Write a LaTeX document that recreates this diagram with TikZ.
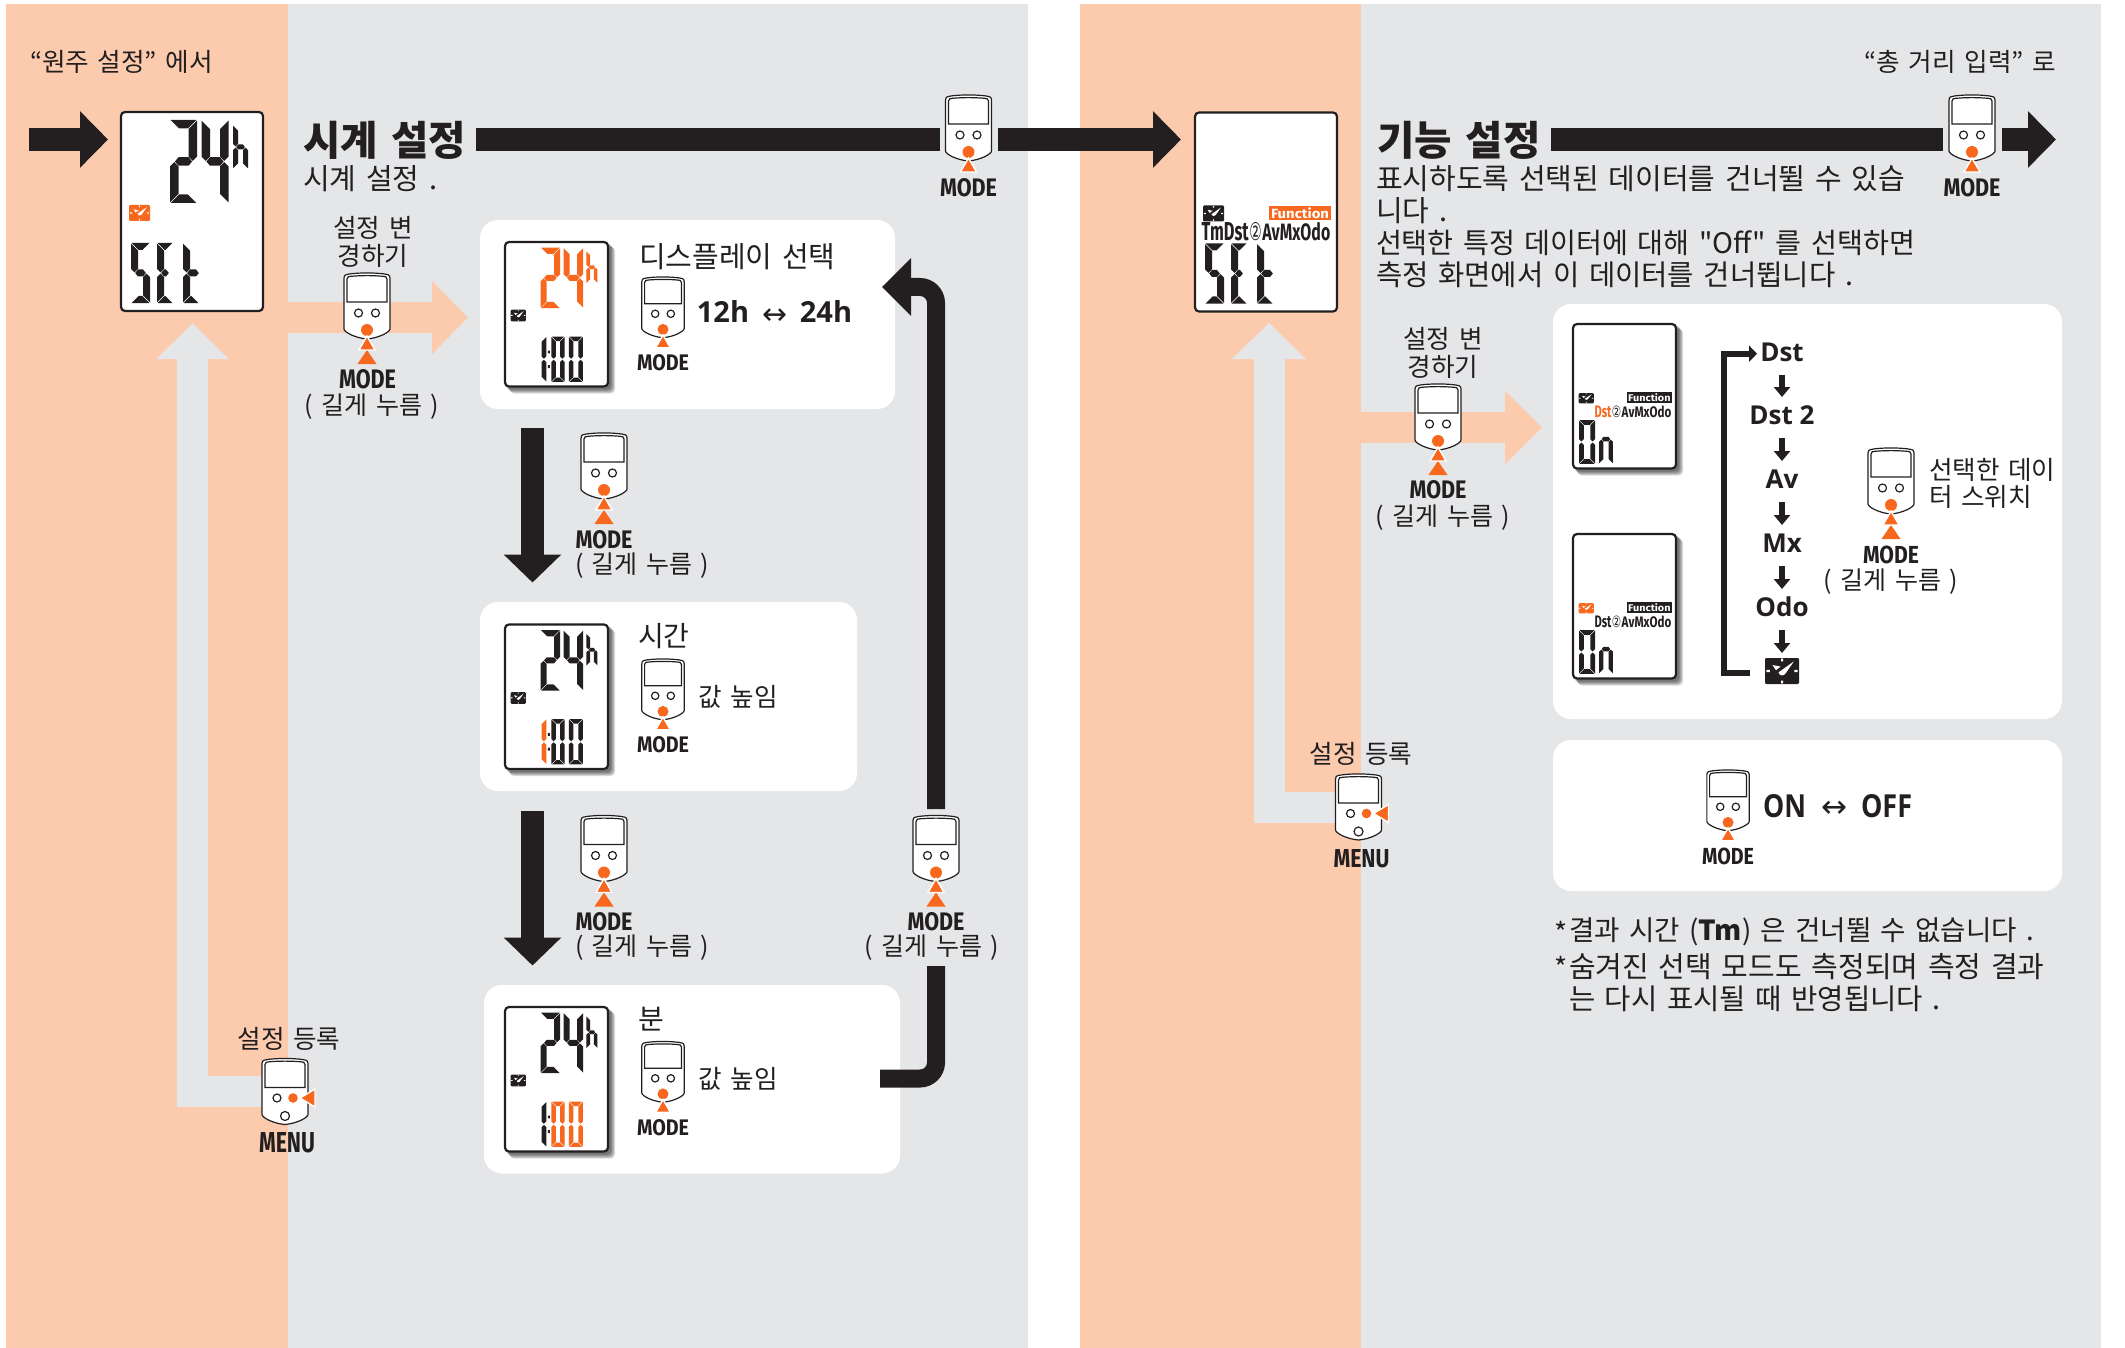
\documentclass[tikz,border=0pt]{standalone}
\usepackage{fontspec}
\usepackage{graphicx}
\usetikzlibrary{arrows.meta,backgrounds}
\newfontfamily\kr[WordSpace=1.5]{Noto Sans CJK KR}
\newfontfamily\opsans{Open Sans}
\newfontfamily\fira{Fira Sans}
\newfontfamily\dej{DejaVu Sans}
\definecolor{peach}{HTML}{FCCBAE}
\definecolor{panelgray}{HTML}{E5E6E8}
\definecolor{ink}{HTML}{231F20}
\definecolor{hot}{HTML}{F7681E}
\tikzset{
  tx/.style={inner sep=0pt,outer sep=0pt,text=ink},
  t125/.style={tx,font=\kr\fontsize{12.5}{15}\selectfont},
  t13/.style={tx,font=\kr\fontsize{12.8}{15}\selectfont},
  t138/.style={tx,font=\kr\fontsize{13.8}{16}\selectfont},
  t14/.style={tx,font=\kr\fontsize{14}{16}\selectfont},
  t141/.style={tx,font=\kr\fontsize{14.1}{16}\selectfont},
  t143/.style={tx,font=\kr\fontsize{14.3}{16}\selectfont},
  t145/.style={tx,font=\kr\fontsize{14.5}{16}\selectfont},
  ttitle/.style={tx,font=\kr\bfseries\fontsize{20.3}{24}\selectfont},
  tbold/.style={tx,font=\opsans\bfseries\fontsize{13}{15}\selectfont},
  tboldb/.style={tx,font=\opsans\bfseries\fontsize{14.5}{16}\selectfont},
  whitepanel/.style={fill=white,rounded corners=9pt,inner sep=0pt,outer sep=0pt},
  lcdbox/.style={draw=ink,fill=white,line width=1.1pt,rounded corners=2pt,inner sep=0pt,outer sep=0pt},
  ghost/.style={inner sep=0pt,outer sep=0pt},
  devline/.style={draw=ink,line width=.6pt},
  blackarrow/.style={draw=ink,line width=11.5pt},
  softarrow/.style={line width=15.5pt},
  smallarrow/.style={draw=ink,line width=3.2pt,-{Triangle[length=5pt,width=8pt]}},
}
% seven segments: local units
\newcommand{\sA}{\fill[\dC] (0.7,0)--(\dW-0.7,0)--(\dW-\dT-0.7,\dT)--(\dT+0.7,\dT)--cycle;}
\newcommand{\sD}{\fill[\dC] (0.7,\dH)--(\dW-0.7,\dH)--(\dW-\dT-0.7,\dH-\dT)--(\dT+0.7,\dH-\dT)--cycle;}
\newcommand{\sF}{\fill[\dC] (0,0.7)--(\dT,\dT+0.7)--(\dT,\dH/2-\dT/2-0.7)--(\dT/2,\dH/2-0.7)--(0,\dH/2-\dT/2-0.7)--cycle;}
\newcommand{\sE}{\fill[\dC] (0,\dH-0.7)--(\dT,\dH-\dT-0.7)--(\dT,\dH/2+\dT/2+0.7)--(\dT/2,\dH/2+0.7)--(0,\dH/2+\dT/2+0.7)--cycle;}
\newcommand{\sB}{\fill[\dC] (\dW,0.7)--(\dW-\dT,\dT+0.7)--(\dW-\dT,\dH/2-\dT/2-0.7)--(\dW-\dT/2,\dH/2-0.7)--(\dW,\dH/2-\dT/2-0.7)--cycle;}
\newcommand{\sC}{\fill[\dC] (\dW,\dH-0.7)--(\dW-\dT,\dH-\dT-0.7)--(\dW-\dT,\dH/2+\dT/2+0.7)--(\dW-\dT/2,\dH/2+0.7)--(\dW,\dH/2+\dT/2+0.7)--cycle;}
\newcommand{\sG}{\fill[\dC] (\dT/2+0.7,\dH/2)--(\dT,\dH/2-\dT/2)--(\dW-\dT,\dH/2-\dT/2)--(\dW-\dT/2-0.7,\dH/2)--(\dW-\dT,\dH/2+\dT/2)--(\dT,\dH/2+\dT/2)--cycle;}
\newcommand{\digit}[7]{\begin{scope}[shift={(#1,#2)}]\def\dW{#3}\def\dH{#4}\def\dT{#5}\def\dC{#6}#7\end{scope}}
% LCD contents in the frame of the large LCD (144 x 201)
\newcommand{\twofour}[1]{%
  \digit{50}{9}{27}{83}{8.5}{#1}{\sA\sB\sG\sE\sD}%
  \digit{81.5}{9}{27}{83}{8.5}{#1}{\sF\sB\sG\sC}%
  \digit{113}{14}{15}{44}{5}{#1}{\sF\sE\sG\sC}}
\newcommand{\setword}{%
  \digit{11}{132}{19}{60}{7}{ink}{\sA\sF\sG\sC\sD}%
  \digit{37}{132}{16}{60}{7}{ink}{\sA\sF\sG\sE\sD}%
  \digit{63}{132}{16}{60}{7}{ink}{\sF\sE\sD}%
  \digit{63}{132}{20}{60}{7}{ink}{\sG}}
\newcommand{\hundred}[3]{%
  \digit{49}{131}{9}{62}{6.5}{#1}{\sB\sC}%
  \fill[ink] (60,150) rectangle (63,154) (60,170) rectangle (63,174);%
  \digit{65}{131}{18}{62}{6}{#2}{\sA\sB\sC\sD\sE\sF}%
  \digit{89}{131}{19}{62}{6}{#3}{\sA\sB\sC\sD\sE\sF}}
\newcommand{\onword}{%
  \digit{9.6}{133}{22}{60}{6.5}{ink}{\sA\sB\sC\sD\sE\sF}%
  \digit{37}{125}{19}{68}{6}{ink}{\sE\sC\sG}}
\newcommand{\clockicon}[5]{%
  \begin{scope}[shift={(#1,#2)},xscale=#3,yscale=#4]
    \fill[#5,rounded corners=0.6pt] (0,0) rectangle (1,1);
    \fill[white] (.85,.13) -- (.60,.60) .. controls (.55,.70) and (.42,.70) .. (.40,.55) -- cycle;
    \fill[white] (.22,.27)--(.46,.33)--(.32,.47)--cycle;
    \fill[white] (.47,.02) rectangle (.53,.13) (.47,.87) rectangle (.53,.98) (.04,.46) rectangle (.14,.54) (.86,.46) rectangle (.96,.54);
  \end{scope}}
\newcommand{\funcrow}[2]{% name, tag colour
  \fill[#2] (75,95) rectangle (137,109);
  \node[ghost,text=white] (#1) at (106,102) {\resizebox{29pt}{5.4pt}{\fira\bfseries Function}};}
\newcommand{\bigframe}[4]{% name, x, y, contents
  \node[lcdbox,minimum width=71pt,minimum height=99.5pt] (#1) at (#2+72,#3+100.5) {};
  \begin{scope}[shift={(#2,#3)},transform shape]#4\end{scope}}
\newcommand{\smallframe}[4]{% name, x, y, contents
  \foreach \o in {2,3,4,5,6}{\fill[black,opacity=.14,rounded corners=2pt] (#2+\o,#3+\o) rectangle (#2+105+\o,#3+146.5+\o);}
  \node[lcdbox,minimum width=51.5pt,minimum height=72.25pt] (#1) at (#2+52.5,#3+73.25) {};
  \begin{scope}[shift={(#2,#3)},scale=.73,transform shape]#4\end{scope}}
\newcommand{\devbody}{%
  \path[devline,fill=white] (-23,5) .. controls (-23,1.5) and (-20,1.2) .. (-17,0.9) .. controls (-6,-0.4) and (6,-0.4) .. (17,0.9) .. controls (20,1.2) and (23,1.5) .. (23,5) -- (23,56) .. controls (23,59) and (12,65) .. (0,66) .. controls (-12,65) and (-23,59) .. (-23,56) -- cycle;
  \path[devline] (-20,29) -- (-20,6) .. controls (-20,3.5) and (-18,3.5) .. (-16,3.3) .. controls (-6,2.4) and (6,2.4) .. (16,3.3) .. controls (18,3.5) and (20,3.5) .. (20,6) -- (20,29) -- cycle;}
\newcommand{\devmode}[5]{% name, cx, top, scale, triangles
  \node[ghost,minimum width=#4*23pt,minimum height=#4*33pt] (#1) at (#2,#3+#4*33) {};
  \begin{scope}[shift={(#2,#3)},scale=#4]
    \devbody
    \path[devline] (-8.5,40) circle (4) (8.5,40) circle (4);
    \fill[hot] (0,57) circle (6);
    \ifnum#5=2 \fill[hot] (0,77)--(9.5,91)--(-9.5,91)--cycle;\fi
    \path[draw=white,line width=.7pt,fill=hot] (0,63)--(8,77)--(-8,77)--cycle;
  \end{scope}}
\newcommand{\devmenu}[3]{% name, cx, top
  \node[ghost,minimum width=23pt,minimum height=33pt] (#1) at (#2,#3+33) {};
  \begin{scope}[shift={(#2,#3)}]
    \devbody
    \path[devline] (-8,39.5) circle (4) (0,57.5) circle (4.5);
    \fill[hot] (8,39.5) circle (4.8);
    \path[draw=white,line width=.7pt,fill=hot] (15,39.5)--(30,30.5)--(30,48.5)--cycle;
  \end{scope}}
\newcommand{\modeword}[5]{% name, cx, cy, width, height in px
  \node[tx] (#1) at (#2,#3) {\resizebox{\dimexpr#4pt/2\relax}{\dimexpr#5pt/2\relax}{\fira\bfseries MODE}};}
% row of the function names, three fitted parts
\newcommand{\fnrow}[6]{\resizebox{#1}{#6}{\fira\bfseries #2}\kern.3pt\resizebox{#3}{#6}{\dej ②}\kern.3pt\resizebox{#4}{#6}{\fira\bfseries #5}}
\begin{document}
\begin{tikzpicture}[x=0.5pt,y=-0.5pt]
\useasboundingbox (0,0) rectangle (2125,1348);

% ----- LCDs
\bigframe{lcdclock}{120}{111}{\twofour{ink}\clockicon{9}{94}{21}{16}{hot}\setword}
\smallframe{lcdA}{504}{241}{\twofour{hot}\clockicon{9}{94}{21}{16}{ink}\hundred{ink}{ink}{ink}}
\smallframe{lcdB}{504}{623.5}{\twofour{ink}\clockicon{9}{94}{21}{16}{ink}\hundred{hot}{ink}{ink}}
\smallframe{lcdC}{504}{1006}{\twofour{ink}\clockicon{9}{94}{21}{16}{ink}\hundred{ink}{hot}{hot}}
\bigframe{lcdfunc}{1194}{111.5}{%
  \clockicon{9}{94}{21}{16}{ink}%
  \funcrow{funcA}{hot}%
  \node[tx] (rowA) at (72,120) {\fnrow{23.5pt}{TmDst}{6.2pt}{34pt}{AvMxOdo}{9pt}};
  \setword}
\smallframe{lcdD}{1572}{323}{%
  \clockicon{9}{96}{21}{14}{ink}%
  \funcrow{funcB}{ink}%
  \node[tx] (rowB) at (83.5,122) {\fnrow{11.6pt}{\textcolor{hot}{Dst}}{6.4pt}{34pt}{AvMxOdo}{7.9pt}};
  \onword}
\smallframe{lcdE}{1572}{533}{%
  \clockicon{9}{96}{21}{14}{hot}%
  \funcrow{funcC}{ink}%
  \node[tx] (rowC) at (83.5,122) {\fnrow{11.6pt}{Dst}{6.4pt}{34pt}{AvMxOdo}{7.9pt}};
  \onword}

% ----- headers and texts, left page
\node[t13,anchor=west] (fromA) at (30,62) {“원주 설정” 에서};
\node[ttitle,anchor=west] (titleA) at (303,140) {시계 설정};
\node[t145,anchor=west] (subA) at (303,179) {시계 설정 .};
\node[t13] (chgA1) at (373,228) {설정 변};
\node[t13] (chgA2) at (373,256) {경하기};
\node[t125] (longA) at (372,407) {( 길게 누름 )};
\node[t13] (saveA) at (289,1039) {설정 등록};
\node[t145,anchor=west] (optA) at (639,257) {디스플레이 선택};
\node[tboldb] (h12) at (723,311) {12h};
\node[tx] (swapA) at (774.5,317) {\resizebox{12.5pt}{!}{\dej ↔}};
\node[tboldb] (h24) at (826,311) {24h};
\node[t14,anchor=west] (optB) at (638,636) {시간};
\node[t13,anchor=west] (upB) at (698.5,697) {값 높임};
\node[t14,anchor=west] (optC) at (638,1019) {분};
\node[t13,anchor=west] (upC) at (698.5,1079) {값 높임};
\node[t125,anchor=west] (longB) at (575,566) {( 길게 누름 )};
\node[t125,anchor=west] (longC) at (575,948) {( 길게 누름 )};
\node[t125] (longD) at (932,948) {( 길게 누름 )};

% ----- headers and texts, right page
\node[t13,anchor=east] (fromB) at (2056,62) {“총 거리 입력” 로};
\node[ttitle,anchor=west] (titleB) at (1377,140) {기능 설정};
\node[t145,anchor=west] (parA) at (1376,179) {표시하도록 선택된 데이터를 건너뛸 수 있습};
\node[t145,anchor=west] (parB) at (1376,210.5) {니다 .};
\node[t141,anchor=west] (parC) at (1376,243) {선택한 특정 데이터에 대해 "Off" 를 선택하면};
\node[t143,anchor=west] (parD) at (1376,275) {측정 화면에서 이 데이터를 건너뜁니다 .};
\node[t13] (chgB1) at (1443,339) {설정 변};
\node[t13] (chgB2) at (1443,367) {경하기};
\node[t125] (longE) at (1443,518) {( 길게 누름 )};
\node[t13] (saveB) at (1361,754) {설정 등록};
\node[tbold] (fDst) at (1782,352) {Dst};
\node[tbold] (fDstb) at (1782,415) {Dst 2};
\node[tbold] (fAv) at (1782,479) {Av};
\node[tbold] (fMx) at (1782,543) {Mx};
\node[tbold] (fOdo) at (1782,607) {Odo};
\node[ghost,minimum width=17pt,minimum height=13pt] (fClock) at (1782,671) {};
\clockicon{1765}{658}{34}{26}{ink}
\node[t13,anchor=west] (swB1) at (1929,470) {선택한 데이};
\node[t13,anchor=west] (swB2) at (1929,497) {터 스위치};
\node[t125] (longF) at (1891,582) {( 길게 누름 )};
\node[tx] (onW) at (1784.5,806.5) {\resizebox{21.5pt}{11.5pt}{\opsans\bfseries ON}};
\node[tx] (swapB) at (1834,809.5) {\resizebox{13pt}{!}{\dej ↔}};
\node[tx] (offW) at (1886.5,806.5) {\resizebox{25.5pt}{11.5pt}{\opsans\bfseries OFF}};
\node[t14,anchor=west] (noteS1) at (1554,932) {*};
\node[t138,anchor=west] (noteA) at (1569,932) {결과 시간 ({\bfseries Tm}) 은 건너뛸 수 없습니다 .};
\node[t14,anchor=west] (noteS2) at (1554,967) {*};
\node[t145,anchor=west] (noteB) at (1569,967) {숨겨진 선택 모드도 측정되며 측정 결과};
\node[t143,anchor=west] (noteC) at (1569,999) {는 다시 표시될 때 반영됩니다 .};

% ----- devices and their labels
\devmode{devTopA}{968.5}{95}{1}{1}
\modeword{mTopA}{968.5}{188}{57}{18}
\devmode{devA}{367}{273}{1}{2}
\modeword{mA}{367.5}{379}{57}{19}
\devmode{devPanelA}{663}{277}{.92}{1}
\modeword{mPanelA}{663}{363}{52}{16}
\devmode{devDownA}{604}{433}{1}{2}
\modeword{mDownA}{604}{540}{57}{18}
\devmode{devPanelB}{663}{659}{.92}{1}
\modeword{mPanelB}{663}{745}{52}{16}
\devmode{devDownB}{604}{815.5}{1}{2}
\modeword{mDownB}{604}{921.5}{57}{18}
\devmode{devRet}{936}{815.5}{1}{2}
\modeword{mRet}{936}{921.5}{57}{18}
\devmode{devPanelC}{663}{1041.5}{.92}{1}
\modeword{mPanelC}{663}{1127.5}{52}{16}
\devmenu{devMenuA}{285}{1058.5}
\node[tx] (menuA) at (287,1143) {\resizebox{28pt}{10pt}{\fira\bfseries MENU}};
\devmode{devTopB}{1972}{95}{1}{1}
\modeword{mTopB}{1972}{188}{57}{18}
\devmode{devB}{1438}{384}{1}{2}
\modeword{mB}{1438}{490}{57}{18}
\devmode{devFunc}{1891}{448}{1}{2}
\modeword{mFunc}{1891}{555}{56}{17.5}
\devmode{devOnOff}{1728}{770}{.92}{1}
\modeword{mOnOff}{1728}{856.5}{52}{16.5}
\devmenu{devMenuB}{1358.5}{774}
\node[tx] (menuB) at (1361.5,859) {\resizebox{28pt}{9pt}{\fira\bfseries MENU}};

% ----- free ends of connectors
\coordinate (inStart) at (29,139.5);
\coordinate (inTip) at (108,139.5);
\coordinate (barAStart) at (476,139.5);
\coordinate (barAEnd) at (940,139.5);
\coordinate (barBStart) at (997.5,139.5);
\coordinate (barBTip) at (1181,139.5);
\coordinate (barCStart) at (1551,139.5);
\coordinate (barCEnd) at (1943,139.5);
\coordinate (barDStart) at (2002,139.5);
\coordinate (barDTip) at (2056,139.5);
\coordinate (softAStart) at (288,317.5);
\coordinate (softATip) at (468,317.5);
\coordinate (softBStart) at (1361,427.5);
\coordinate (softBTip) at (1542,427.5);
\coordinate (backATip) at (192.5,323);
\coordinate (backBTip) at (1269,323);
\coordinate (downAStart) at (532.5,428);
\coordinate (downATip) at (532.5,582.5);
\coordinate (downBStart) at (532.5,811);
\coordinate (downBTip) at (532.5,965.5);
\coordinate (retTip) at (882,287);
\coordinate (retTop) at (936,809);
\coordinate (retLow) at (936,966);
\coordinate (retTail) at (880,1078.5);
\coordinate (brackLow) at (1750,672.5);
\coordinate (brackTip) at (1757,353.7);

\begin{pgfonlayer}{background}
  \fill[peach] (6,4) rectangle (288,1348);
  \fill[panelgray] (288,4) rectangle (1028,1348);
  \fill[peach] (1080,4) rectangle (1361,1348);
  \fill[panelgray] (1361,4) rectangle (2101,1348);
  \node[whitepanel,minimum width=207.5pt,minimum height=94.5pt] (panelA) at (687.5,314.5) {};
  \node[whitepanel,minimum width=188.5pt,minimum height=94.5pt] (panelB) at (668.5,696.5) {};
  \node[whitepanel,minimum width=208pt,minimum height=94.25pt] (panelC) at (692,1079.25) {};
  \node[whitepanel,minimum width=254.5pt,minimum height=207.5pt] (panelD) at (1807.5,511.5) {};
  \node[whitepanel,minimum width=254.5pt,minimum height=75.5pt] (panelE) at (1807.5,815.5) {};
  % soft arrows
  \draw[softarrow,draw=peach,-{Triangle[length=18pt,width=35.5pt]}] (softAStart) -- (softATip);
  \draw[softarrow,draw=peach,-{Triangle[length=18.5pt,width=35.5pt]}] (softBStart) -- (softBTip);
  \draw[softarrow,draw=panelgray,-{Triangle[length=18pt,width=35pt]}] (devMenuA.center) -| (backATip);
  \draw[softarrow,draw=panelgray,-{Triangle[length=18pt,width=36pt]}] (devMenuB.center) -| (backBTip);
  % black arrows
  \draw[blackarrow,-{Triangle[length=14pt,width=27.5pt]}] (inStart) -- (inTip);
  \draw[blackarrow] (barAStart) -- (barAEnd);
  \draw[blackarrow,-{Triangle[length=14pt,width=27.5pt]}] (barBStart) -- (barBTip);
  \draw[blackarrow] (barCStart) -- (barCEnd);
  \draw[blackarrow,-{Triangle[length=14pt,width=27.5pt]}] (barDStart) -- (barDTip);
  \draw[blackarrow,-{Triangle[length=14pt,width=28pt]}] (downAStart) -- (downATip);
  \draw[blackarrow,-{Triangle[length=14pt,width=28pt]}] (downBStart) -- (downBTip);
  \draw[draw=ink,line width=9pt,rounded corners=8pt,-{Triangle[length=14.5pt,width=28pt]}] (retTop) |- (retTip);
  \draw[draw=ink,line width=9pt,rounded corners=8pt] (retTail) -| (retLow);
  % bracket
  \draw[draw=ink,line width=3pt,-{Triangle[length=4pt,width=8pt]}] (brackLow) -- (1724,672.5) -- (1724,353.7) -- (brackTip);
\end{pgfonlayer}
% small arrows between the function names
\foreach \a/\b in {fDst/fDstb,fDstb/fAv,fAv/fMx,fMx/fOdo,fOdo/fClock}{
  \draw[smallarrow,shorten <=11.5pt,shorten >=9pt] (\a.center) -- (\b.center);
}
\end{tikzpicture}
\end{document}
